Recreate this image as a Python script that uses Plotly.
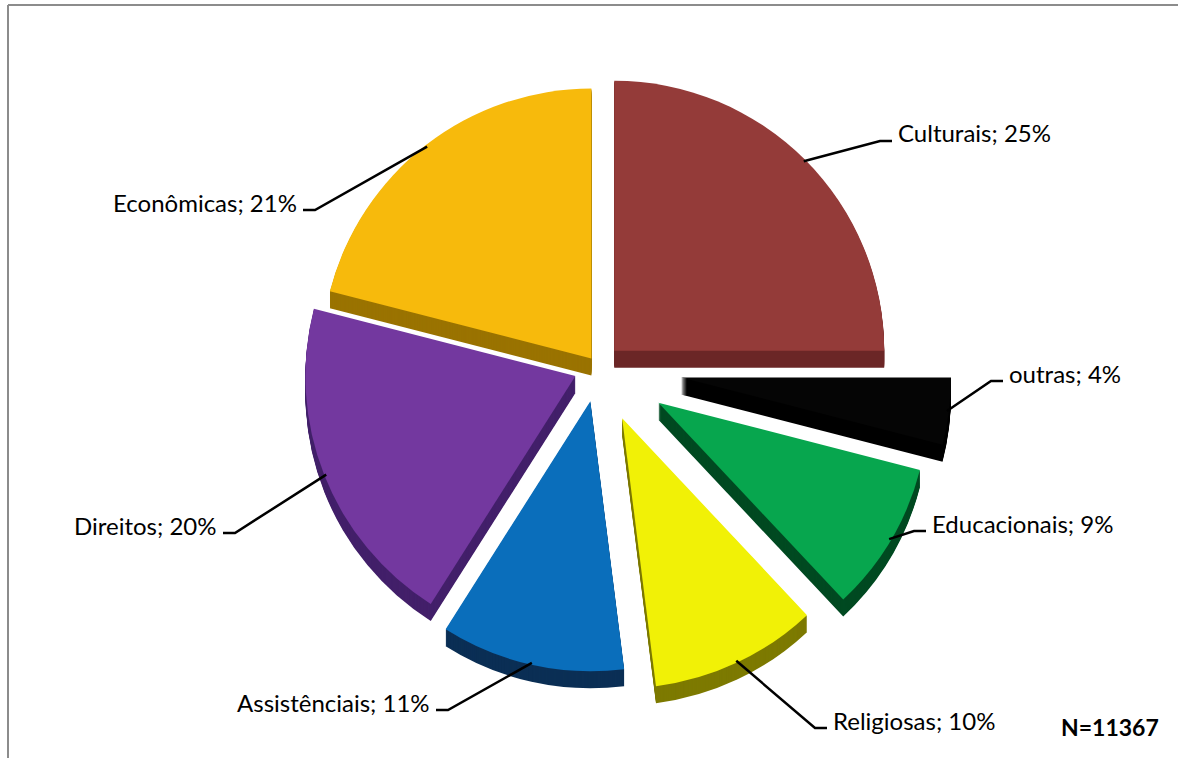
import math
import plotly.graph_objects as go

# Categories and shares (%)
labels = ["Culturais", "outras", "Educacionais", "Religiosas", "Assistênciais", "Direitos", "Econômicas"]
values = [25, 4, 9, 10, 11, 20, 21]
sample_note = "N=11367"

# Styling
top_colors = ["#943B39", "#050505", "#07A64E", "#F1F106", "#0A6EBB", "#73389F", "#F7BA0C"]
side_colors = ["#6B2727", "#000000", "#004A22", "#7D7A00", "#0B2F55", "#43206A", "#9A7300"]
pulls = [0.085, 0.31, 0.26, 0.21, 0.13, 0.09, 0.04]

W, H = 1178, 758
CX, CY = 598, 367      # pie centre in px
R = 270                # pie radius in px
DEPTH = 17             # thickness of the extruded side
FONT = "Lato"
FSIZE = 24

# leader-line elbow (px) and which side the text sits on
elbows = [(880, 141, "right"), (991, 381, "right"), (914, 531, "right"),
          (815, 728, "right"), (448, 710, "left"), (235, 533, "left"),
          (315, 210, "left")]

half = R * (1 + max(pulls))
dom_x = [(CX - half) / W, (CX + half) / W]
dom_y = [1 - (CY + half) / H, 1 - (CY - half) / H]

common = dict(labels=labels, values=values, sort=False, direction="clockwise",
              rotation=0, pull=pulls, textinfo="none", hoverinfo="skip",
              showlegend=False)

fig = go.Figure()
# stacked darker copies underneath build up the slab's side wall
for shift in range(DEPTH, 0, -1):
    fig.add_trace(go.Pie(**common,
                         domain=dict(x=dom_x, y=[dom_y[0] - shift / H, dom_y[1] - shift / H]),
                         marker=dict(colors=side_colors, line=dict(width=0))))
fig.add_trace(go.Pie(**common, domain=dict(x=dom_x, y=dom_y),
                     marker=dict(colors=top_colors, line=dict(width=0))))


def px(x, y):
    return x / W, 1 - y / H


shapes = []
annotations = []
total = sum(values)
cum = 0
for lab, val, p, (ex, ey, side) in zip(labels, values, pulls, elbows):
    theta = 2 * math.pi * (cum + val / 2) / total
    cum += val
    ux, uy = math.sin(theta), -math.cos(theta)
    sx = CX + (1 + p) * R * ux - 2 * ux
    sy = CY + (1 + p) * R * uy - 2 * uy
    hx = ex + 12 if side == "right" else ex - 12
    a, b = px(sx, sy)
    c, d = px(ex, ey)
    e, f = px(hx, ey)
    shapes.append(dict(type="path", xref="paper", yref="paper",
                       path=f"M {a},{b} L {c},{d} L {e},{f}",
                       line=dict(color="black", width=2.5)))
    tx = hx + 4 if side == "right" else hx - 4
    ax_, ay_ = px(tx, ey - 8)
    annotations.append(dict(x=ax_, y=ay_, xref="paper", yref="paper",
                            text=f"{lab}; {val}%", showarrow=False,
                            xanchor="left" if side == "right" else "right",
                            yanchor="middle",
                            font=dict(family=FONT, size=FSIZE, color="black")))

nx, ny = px(1110, 727)
annotations.append(dict(x=nx, y=ny, xref="paper", yref="paper",
                        text=f"<b>{sample_note}</b>", showarrow=False,
                        xanchor="center", yanchor="middle",
                        font=dict(family=FONT, size=23, color="black")))

# chart-area frame (top and left edges)
bx, by = px(8, 5)
shapes.append(dict(type="line", xref="paper", yref="paper", x0=bx, y0=by, x1=1, y1=by,
                   line=dict(color="#8C8C8C", width=2)))
shapes.append(dict(type="line", xref="paper", yref="paper", x0=bx, y0=by, x1=bx, y1=0,
                   line=dict(color="#8C8C8C", width=2)))

fig.update_layout(width=W, height=H, margin=dict(l=0, r=0, t=0, b=0),
                  paper_bgcolor="white", plot_bgcolor="white",
                  shapes=shapes, annotations=annotations)

fig.write_html("out.html")
